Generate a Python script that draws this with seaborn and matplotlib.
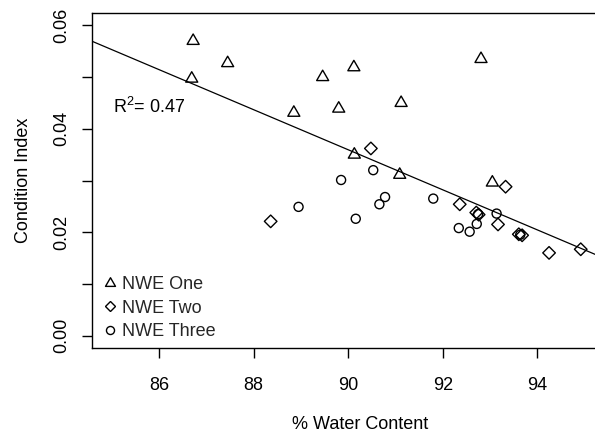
import numpy as np
import pandas as pd
import matplotlib
matplotlib.use("Agg")
import matplotlib.pyplot as plt
from matplotlib.path import Path
from matplotlib.lines import Line2D
import seaborn as sns

# ---- data ----
groups = ["NWE One", "NWE Two", "NWE Three"]

one_x = [86.72, 87.45, 86.69, 89.46, 88.85, 90.12, 92.81, 89.80, 91.12, 90.13, 91.09, 93.05]
one_y = [0.0570, 0.0527, 0.0497, 0.0500, 0.0431, 0.0519, 0.0535, 0.0439, 0.0450, 0.0350, 0.0311, 0.0296]

two_x = [88.36, 90.48, 93.33, 92.36, 92.71, 92.76, 93.17, 93.61, 93.68, 94.25, 94.92]
two_y = [0.0221, 0.0362, 0.0288, 0.0254, 0.0238, 0.0234, 0.0215, 0.0196, 0.0194, 0.0160, 0.0167]

three_x = [88.95, 89.85, 90.53, 90.78, 90.66, 90.16, 91.80, 92.75, 92.72, 92.34, 92.57, 93.14, 93.64]
three_y = [0.0249, 0.0301, 0.0320, 0.0268, 0.0254, 0.0226, 0.0265, 0.0235, 0.0216, 0.0208, 0.0201, 0.0236, 0.0195]

r2_label = "0.47"
x_ticks = [86, 88, 90, 92, 94]
y_ticks = [0.00, 0.01, 0.02, 0.03, 0.04, 0.05, 0.06]
y_ticklabels = ["0.00", "", "0.02", "", "0.04", "", "0.06"]

df = pd.DataFrame({
    "water": one_x + two_x + three_x,
    "ci": one_y + two_y + three_y,
    "group": [groups[0]] * len(one_x) + [groups[1]] * len(two_x) + [groups[2]] * len(three_x),
})

# ---- style ----
sns.set_theme(style="ticks")
plt.rcParams["font.family"] = ["Liberation Sans", "DejaVu Sans"]
plt.rcParams["mathtext.fontset"] = "custom"
plt.rcParams["mathtext.rm"] = "Liberation Sans"
plt.rcParams["mathtext.it"] = "Liberation Sans:italic"

tri = Path([(-1.0, -0.577), (1.0, -0.577), (0.0, 1.155), (-1.0, -0.577)],
           [Path.MOVETO, Path.LINETO, Path.LINETO, Path.CLOSEPOLY])
markers = {"NWE One": tri, "NWE Two": "D", "NWE Three": "o"}
sizes = {"NWE One": 10.0, "NWE Two": 6.4, "NWE Three": 6.5}
leg_sizes = {"NWE One": 8.3, "NWE Two": 5.6, "NWE Three": 5.8}

fig = plt.figure(figsize=(5.95, 4.36), dpi=100)
W, H = 595.0, 436.0
left, right, top, bottom = 92, 628, 13, 348
ax = fig.add_axes([left / W, 1 - bottom / H, (right - left) / W, (bottom - top) / H])
ax.set_xlim(84.58, 95.92)
ax.set_ylim(-0.0024, 0.0624)

for g in groups:
    sub = df[df["group"] == g]
    sns.scatterplot(data=sub, x="water", y="ci", marker=markers[g],
                    s=sizes[g] ** 2, facecolor="none", edgecolor="black",
                    linewidth=1.0, ax=ax, legend=False, zorder=3)

sns.regplot(data=df, x="water", y="ci", scatter=False, ci=None, truncate=False,
            color="black", line_kws={"linewidth": 0.9}, ax=ax)
ax.set_xlim(84.58, 95.92)
ax.set_ylim(-0.0024, 0.0624)

ax.set_xticks(x_ticks)
ax.set_xticklabels([str(t) for t in x_ticks])
ax.set_yticks(y_ticks)
ax.set_yticklabels(y_ticklabels, rotation=90, va="center")
ax.tick_params(axis="both", direction="out", length=7.2, width=1.0, color="black",
               labelsize=13, labelcolor="black")
ax.tick_params(axis="x", pad=14.0)
ax.tick_params(axis="y", pad=8.5)

for sp in ax.spines.values():
    sp.set_visible(True)
    sp.set_color("black")
    sp.set_linewidth(1.0)

ax.set_xlabel("% Water Content", fontsize=13, color="black")
ax.set_ylabel("Condition Index", fontsize=13, color="black")
ax.xaxis.set_label_coords(0.5, -(416 - bottom) / (bottom - top))
ax.yaxis.set_label_coords(-(left - 32) / (right - left), 0.5)

ax.text(0.0386, 0.72, r"$\mathrm{R}^2$= " + r2_label, transform=ax.transAxes,
        ha="left", va="center", fontsize=13, color="black")

handles = [Line2D([], [], linestyle="none", marker=markers[g], markersize=leg_sizes[g],
                  markerfacecolor="none", markeredgecolor="black", markeredgewidth=1.0)
           for g in groups]
ax.legend(handles, groups, loc="lower left", bbox_to_anchor=(0.02, 0.024),
          frameon=False, fontsize=13, handlelength=0.8, handletextpad=0.25,
          labelspacing=0.35, borderpad=0, borderaxespad=0)

fig.savefig("out.png", dpi=100)
